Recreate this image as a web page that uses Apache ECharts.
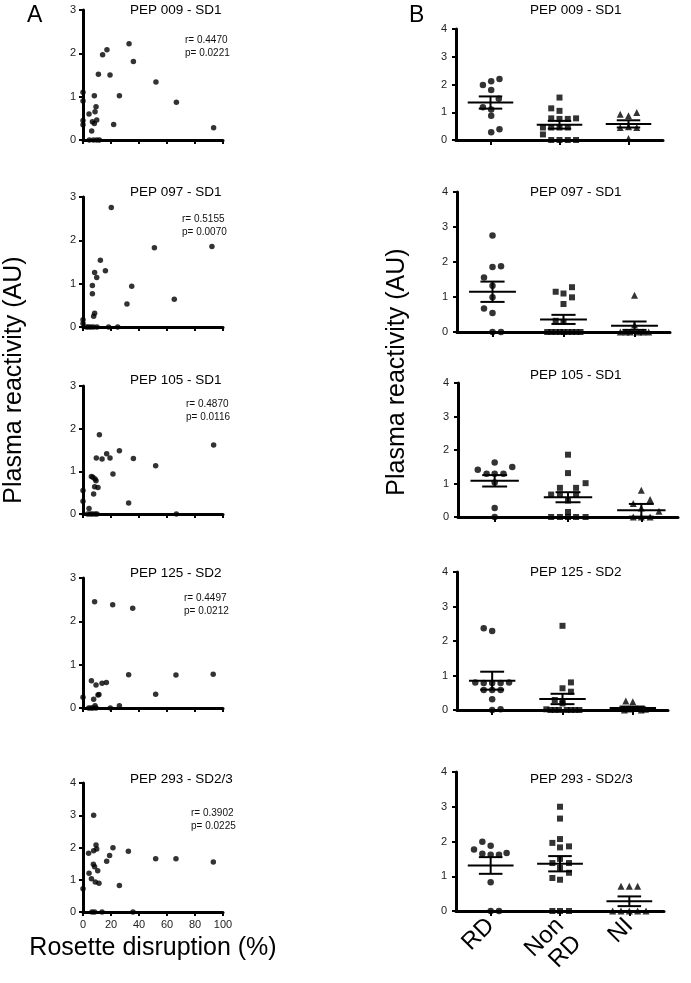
<!DOCTYPE html>
<html><head><meta charset="utf-8">
<script src="https://cdn.jsdelivr.net/npm/echarts@6/dist/echarts.min.js"></script>
<style>html,body{margin:0;padding:0;background:#fff}#c{width:691px;height:983px}</style>
</head><body><div id="c"></div>
<script>
const FONT = '"Liberation Sans", Arial, Helvetica, sans-serif';

// ---------- texts ----------
const peptideTitles = ['PEP 009 - SD1', 'PEP 097 - SD1', 'PEP 105 - SD1', 'PEP 125 - SD2', 'PEP 293 - SD2/3'];
const rValues = ['0.4470', '0.5155', '0.4870', '0.4497', '0.3902'];
const pValues = ['0.0221', '0.0070', '0.0116', '0.0212', '0.0225'];
const groups = ['RD', 'Non RD', 'NI'];
const yMaxA = [3, 3, 3, 3, 4];
const yMaxB = [4, 4, 4, 4, 4];

// ---------- panel A : [rosette disruption %, plasma reactivity AU] ----------
const a009 = [[0,1.1],[0,0.9],[0,0.45],[0,0.35],[4.3,0.6],[6.7,0.42],[6.2,0.21],[8.1,0.38],[8.1,1.02],[8.6,0.65],[9.3,0.77],[9.8,0.46],[11,1.52],[14,1.97],[17.1,2.08],[19.3,1.5],[21.9,0.36],[26,1.02],[32.9,2.22],[36,1.81],[52.1,1.34],[66.7,0.87],[93.3,0.28],[4.5,0],[7.4,0],[9.8,0],[11.7,0]];
const a097 = [[0,0.17],[0,0.08],[20.2,2.76],[12.4,1.54],[8.3,1.26],[9.8,1.14],[16,1.3],[6.7,0.96],[6.7,0.77],[8.3,0.32],[7.6,0.25],[51,1.83],[92.1,1.86],[34.8,0.94],[31.4,0.53],[65.2,0.64],[2.4,0],[4,0],[5.7,0],[7.6,0],[10,0],[18.3,0],[24.8,0]];
const a105 = [[0,0.55],[0,0.3],[11.7,1.86],[9.5,1.31],[13.6,1.29],[16.9,1.41],[19.3,1.31],[26,1.48],[36,1.3],[21.4,0.94],[51.9,1.13],[93.3,1.62],[32.6,0.26],[6,0.88],[7.1,0.86],[8.6,0.82],[9.3,0.78],[8.3,0.64],[10.7,0.62],[7.6,0.47],[4.3,0.13],[3.3,0],[5.2,0],[6.7,0],[8.6,0],[10,0],[66.7,0]];
const a125 = [[0,0.25],[8.3,2.45],[21.2,2.38],[35.5,2.3],[6,0.63],[9.3,0.53],[13.6,0.57],[16.7,0.59],[32.6,0.77],[66.4,0.76],[93,0.78],[51.9,0.32],[10.7,0.3],[11.4,0.31],[7.6,0.2],[26,0.05],[8.6,0.05],[4,0],[5.7,0],[7.1,0],[9.3,0],[19.5,0]];
const a293 = [[0,0.72],[7.6,3.0],[4,1.82],[7.6,1.9],[9.3,2.08],[9.8,1.95],[7.4,1.48],[8.3,1.4],[10.5,1.28],[4.3,1.2],[6,1.03],[8.8,0.93],[11.4,0.89],[16.9,1.57],[19,1.75],[21.4,1.99],[32.4,1.88],[26,0.82],[51.9,1.65],[66.4,1.65],[93.1,1.55],[6.4,0],[8.3,0],[13.6,0],[35.7,0]];

// ---------- panel B : [group position (1=RD,2=Non RD,3=NI) incl. spread, reactivity] ----------
const b009RD  = [[1.13,2.2],[1.01,2.12],[0.89,1.98],[1.01,1.8],[1.12,1.49],[0.89,1.18],[1.01,1.1],[1.01,0.87],[1.13,0.39],[1.01,0.28]];
const b009Non = [[2.0,1.53],[1.88,1.14],[2.0,1.05],[1.88,0.78],[2.0,0.76],[2.12,0.76],[2.24,0.78],[1.76,0.45],[1.88,0.45],[2.0,0.45],[2.12,0.45],[1.76,0.2],[1.88,0],[2.0,0],[2.12,0],[2.24,0]];
const b009NI  = [[2.88,0.93],[3.0,0.87],[3.12,0.99],[2.88,0.45],[3.0,0.48],[3.12,0.45],[3.0,0.05]];
const b009Mean = [1.35, 0.55, 0.58];
const b009Sem  = [0.22, 0.14, 0.13];

const b097RD  = [[1.0,2.76],[1.0,1.86],[1.12,1.88],[0.88,1.56],[1.0,1.32],[1.0,0.99],[0.88,0.67],[1.0,0.54],[1.0,0],[1.12,0]];
const b097Non = [[1.89,1.15],[2.0,1.1],[2.12,1.28],[2.0,0.8],[2.12,0.99],[1.89,0.32],[2.0,0.29],[1.77,0],[1.83,0],[1.89,0],[1.95,0],[2.0,0],[2.06,0],[2.12,0],[2.18,0],[2.24,0]];
const b097NI  = [[3.0,1.05],[3.0,0.2],[2.8,0],[2.88,0],[2.94,0],[3.06,0],[3.12,0],[3.2,0]];
const b097Mean = [1.15, 0.36, 0.18];
const b097Sem  = [0.29, 0.13, 0.12];

const b105RD  = [[1.0,1.63],[0.77,1.41],[1.24,1.49],[0.89,1.29],[1.0,1.29],[1.12,1.29],[1.0,1.03],[1.0,0.27],[1.0,0]];
const b105Non = [[2.0,1.86],[2.0,1.31],[2.24,1.01],[1.89,0.87],[2.11,0.87],[1.77,0.67],[1.89,0.67],[2.11,0.67],[2.0,0.49],[2.0,0.15],[1.77,0],[1.89,0],[2.0,0],[2.11,0],[2.24,0]];
const b105NI  = [[3.0,0.8],[3.12,0.52],[2.89,0.4],[3.0,0.27],[3.24,0.17],[2.89,0],[3.0,0],[3.12,0]];
const b105Mean = [1.08, 0.59, 0.2];
const b105Sem  = [0.17, 0.15, 0.19];

const b125RD  = [[0.88,2.37],[1.0,2.29],[0.76,0.8],[0.88,0.78],[1.0,0.78],[1.12,0.78],[1.24,0.8],[0.88,0.58],[1.0,0.58],[1.12,0.58],[1.0,0.31],[1.0,0],[1.12,0.02]];
const b125Non = [[2.0,2.44],[2.12,0.8],[2.0,0.63],[2.12,0.53],[1.89,0.29],[2.0,0.26],[2.0,0.19],[1.77,0.02],[1.83,0],[1.89,0],[1.95,0],[2.06,0],[2.12,0],[2.18,0],[2.24,0]];
const b125NI  = [[2.9,0.26],[3.0,0.24],[2.82,0.05],[2.94,0.03],[3.06,0.04],[3.12,0],[3.18,0.02],[2.88,0]];
const b125Mean = [0.85, 0.32, 0.06];
const b125Sem  = [0.26, 0.15, 0.04];

const b293RD  = [[0.88,1.99],[0.76,1.77],[1.0,1.88],[0.88,1.65],[1.0,1.62],[1.12,1.62],[1.23,1.67],[1.0,0.83],[1.0,0],[1.12,0]];
const b293Non = [[2.0,3.0],[2.0,2.66],[1.89,1.96],[2.0,2.07],[2.13,1.86],[2.0,1.83],[1.89,1.38],[2.0,1.5],[2.13,1.38],[2.0,1.24],[1.89,0.95],[2.0,0.9],[2.13,1.1],[1.89,0],[2.0,0],[2.13,0]];
const b293NI  = [[2.88,0.71],[3.0,0.71],[3.12,0.71],[2.76,0],[2.88,0],[3.0,0],[3.12,0],[3.24,0]];
const b293Mean = [1.31, 1.36, 0.28];
const b293Sem  = [0.24, 0.22, 0.14];

// ---------- assembling ----------
const dataA = [a009, a097, a105, a125, a293];
const dataB = [
  [b009RD, b009Non, b009NI], [b097RD, b097Non, b097NI], [b105RD, b105Non, b105NI],
  [b125RD, b125Non, b125NI], [b293RD, b293Non, b293NI]];
const meansB = [b009Mean, b097Mean, b105Mean, b125Mean, b293Mean];
const semsB = [b009Sem, b097Sem, b105Sem, b125Sem, b293Sem];

// layout (pixels)
const gridA = [
  {left: 83, top: 10, width: 140, height: 130},
  {left: 83, top: 197, width: 140, height: 130},
  {left: 83, top: 386, width: 140, height: 128},
  {left: 83, top: 578, width: 140, height: 130},
  {left: 83, top: 783, width: 140, height: 129}];
const gridB = [
  {left: 456, top: 29, width: 207, height: 111},
  {left: 457, top: 192, width: 213, height: 140},
  {left: 458, top: 383, width: 220, height: 134},
  {left: 457, top: 572, width: 211, height: 138},
  {left: 456, top: 772, width: 208, height: 139}];
const titleYA = [10, 192, 380, 573, 779];
const titleYB = [10, 192, 375, 572, 779];
const rpX = [185, 182, 186, 184, 191];
const rpY = [39, 218, 403, 597, 812];

const AX = {color: '#000', width: 3};
const TK = {color: '#000', width: 2};
const LBL = {fontSize: 11, color: '#222', fontFamily: FONT};

const grids = [], xAxes = [], yAxes = [], series = [], titles = [];

gridA.forEach((g, i) => {
  grids.push(Object.assign({containLabel: false}, g));
  xAxes.push({
    gridIndex: i, type: 'value', min: 0, max: 100, interval: 20,
    axisLine: {lineStyle: AX}, axisTick: {length: 4, lineStyle: TK},
    axisLabel: Object.assign({show: i === 4, margin: 7}, LBL),
    splitLine: {show: false},
    name: i === 4 ? 'Rosette disruption (%)' : '', nameLocation: 'middle', nameGap: 24,
    nameTextStyle: {fontSize: 25, color: '#000', fontFamily: FONT}
  });
  yAxes.push({
    gridIndex: i, type: 'value', min: 0, max: yMaxA[i], interval: 1,
    axisLine: {show: true, lineStyle: AX}, axisTick: {show: true, length: 4, lineStyle: TK},
    axisLabel: Object.assign({margin: 7}, LBL), splitLine: {show: false}
  });
  series.push({
    type: 'scatter', xAxisIndex: i, yAxisIndex: i, data: dataA[i], clip: false,
    symbol: 'circle', symbolSize: 5.5, itemStyle: {color: '#000'}, silent: true
  });
  titles.push({text: peptideTitles[i], left: 130, top: titleYA[i] - 7, padding: 0,
    textStyle: {fontSize: 13.5, fontWeight: 'normal', color: '#000', fontFamily: FONT}});
  titles.push({text: 'r= ' + rValues[i] + '\np= ' + pValues[i], left: rpX[i], top: rpY[i] - 6, padding: 0,
    textStyle: {fontSize: 10, lineHeight: 13.5, fontWeight: 'normal', color: '#111', fontFamily: FONT}});
});

function renderMeanSem(params, api) {
  const c = api.value(0), m = api.value(1), s = api.value(2);
  const L = api.coord([c - 0.33, m]), R = api.coord([c + 0.33, m]);
  const T = api.coord([c, m + s]), B = api.coord([c, m - s]);
  const w = api.coord([c + 0.17, m])[0] - api.coord([c, m])[0];
  const st = {stroke: '#000', lineWidth: 2};
  return {type: 'group', children: [
    {type: 'line', shape: {x1: L[0], y1: L[1], x2: R[0], y2: R[1]}, style: st},
    {type: 'line', shape: {x1: T[0], y1: T[1], x2: B[0], y2: B[1]}, style: st},
    {type: 'line', shape: {x1: T[0] - w, y1: T[1], x2: T[0] + w, y2: T[1]}, style: st},
    {type: 'line', shape: {x1: B[0] - w, y1: B[1], x2: B[0] + w, y2: B[1]}, style: st}
  ]};
}

// rotated group labels: multi-word names wrap, first line kept at the tick like single-word names
function groupLabel(v) {
  const name = groups[Math.round(v) - 1];
  if (!name) return '';
  const parts = name.split(' ');
  return parts.length > 1 ? '\u00a0\n' + parts.join('\n') : name;
}

const symbolsB = ['circle', 'rect', 'triangle'];
const sizesB = [6.5, 6, 7];
gridB.forEach((g, j) => {
  const i = j + 5;
  grids.push(Object.assign({containLabel: false}, g));
  xAxes.push({
    gridIndex: i, type: 'value', min: 0.5, max: 3.5,
    axisLine: {lineStyle: AX},
    axisTick: {length: 5, lineStyle: TK, customValues: [1, 2, 3]},
    axisLabel: {show: j === 4, customValues: [1, 2, 3], rotate: 45, margin: 11,
      fontSize: 24, lineHeight: 25, color: '#000', fontFamily: FONT,
      formatter: groupLabel},
    splitLine: {show: false}
  });
  yAxes.push({
    gridIndex: i, type: 'value', min: 0, max: yMaxB[j], interval: 1,
    axisLine: {show: true, lineStyle: AX}, axisTick: {show: true, length: 4, lineStyle: TK},
    axisLabel: Object.assign({margin: 9}, LBL), splitLine: {show: false}
  });
  dataB[j].forEach((d, k) => {
    series.push({
      type: 'scatter', xAxisIndex: i, yAxisIndex: i, data: d, clip: false,
      symbol: symbolsB[k], symbolSize: sizesB[k], itemStyle: {color: '#000'}, silent: true
    });
  });
  series.push({
    type: 'custom', xAxisIndex: i, yAxisIndex: i, clip: false, silent: true,
    renderItem: renderMeanSem,
    data: meansB[j].map((m, k) => [k + 1, m, semsB[j][k]]),
    z: 3
  });
  titles.push({text: peptideTitles[j], left: 530, top: titleYB[j] - 7, padding: 0,
    textStyle: {fontSize: 13.5, fontWeight: 'normal', color: '#000', fontFamily: FONT}});
});

titles.push({text: 'A', left: 27, top: 4, padding: 0,
  textStyle: {fontSize: 23, fontWeight: 'normal', color: '#000', fontFamily: FONT}});
titles.push({text: 'B', left: 409, top: 4, padding: 0,
  textStyle: {fontSize: 23, fontWeight: 'normal', color: '#000', fontFamily: FONT}});

const yName = 'Plasma reactivity (AU)';
const chart = echarts.init(document.getElementById('c'), null, {renderer: 'canvas'});
chart.setOption({
  backgroundColor: '#fff',
  animation: false,
  title: titles,
  grid: grids,
  xAxis: xAxes,
  yAxis: yAxes,
  series: series,
  graphic: [
    {type: 'text', x: 14, y: 380, rotation: Math.PI / 2, silent: true,
      style: {text: yName, font: '25px ' + FONT, fill: '#000', align: 'center', verticalAlign: 'middle',
        textAlign: 'center', textVerticalAlign: 'middle'}},
    {type: 'text', x: 397, y: 372, rotation: Math.PI / 2, silent: true,
      style: {text: yName, font: '25px ' + FONT, fill: '#000', align: 'center', verticalAlign: 'middle',
        textAlign: 'center', textVerticalAlign: 'middle'}}
  ]
});
</script>
</body></html>
